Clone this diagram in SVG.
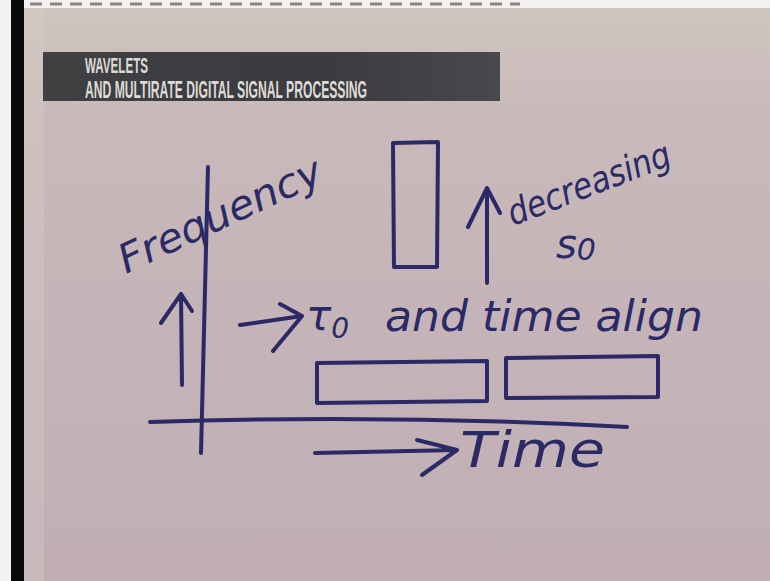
<svg xmlns="http://www.w3.org/2000/svg" width="770" height="581" viewBox="0 0 770 581">
<defs>
<linearGradient id="page" x1="0" y1="0" x2="0" y2="1">
<stop offset="0" stop-color="#d0c6c0"/>
<stop offset="0.2" stop-color="#c8b9ba"/>
<stop offset="1" stop-color="#c0aeb4"/>
</linearGradient>
<linearGradient id="bar" x1="0" y1="0" x2="1" y2="0">
<stop offset="0" stop-color="#3f4042"/>
<stop offset="0.6" stop-color="#3a3b3f"/>
<stop offset="1" stop-color="#48494d"/>
</linearGradient>
<style>
.ink{fill:none;stroke:#2b2966;stroke-width:4;stroke-linecap:round;stroke-linejoin:round}
.hw{fill:#2b2966;font-family:"DejaVu Sans",sans-serif;font-style:italic}
.hd{fill:#dedad6;font-family:"Liberation Sans",sans-serif;font-weight:bold}
</style>
</defs>
<g id="background">
<rect x="0" y="0" width="770" height="581" fill="url(#page)"/>
<rect x="0" y="0" width="11" height="581" fill="#f4f2f0"/>
<rect x="0" y="0" width="770" height="8" fill="#f4f2f0"/>
<rect x="11" y="0" width="13" height="581" fill="#0a0a0a"/>
<rect x="24" y="8" width="20" height="573" fill="#d6cfc9" opacity="0.35"/>
<path d="M30 4 H520" stroke="#8a8684" stroke-width="3" stroke-dasharray="12 8"/>
</g>
<g id="header">
<rect x="43" y="52" width="457" height="49" fill="url(#bar)"/>
<text class="hd" x="85" y="73" font-size="22" textLength="63" lengthAdjust="spacingAndGlyphs">WAVELETS</text>
<text class="hd" x="85" y="98" font-size="24" textLength="282" lengthAdjust="spacingAndGlyphs">AND MULTIRATE DIGITAL SIGNAL PROCESSING</text>
</g>
<g id="connectors">
<path class="ink" d="M208 167 L201 453"/>
<path class="ink" d="M150 422 Q390 414 627 427"/>
<path class="ink" d="M182 385 L181 294 M161 323 L181 294 L192 311"/>
<path class="ink" d="M487 283 L487 188 M468 227 L487 188 L500 213"/>
<path class="ink" d="M240 325 L302 316 M280 304 L302 316 L273 351"/>
<path class="ink" d="M315 453 L457 450 M417 440 L457 450 L422 475"/>
</g>
<g id="tall-box">
<path class="ink" d="M393 143 L438 142 L437 267 L394 267 Z"/>
</g>
<g id="wide-box-1">
<path class="ink" d="M317 363 L487 361 L487 401 L317 403 Z"/>
</g>
<g id="wide-box-2">
<path class="ink" d="M506 358 L658 356 L658 397 L506 398 Z"/>
</g>
<g id="labels">
<text class="hw" font-size="40" transform="translate(126 274) rotate(-25)" textLength="220" lengthAdjust="spacingAndGlyphs">Frequency</text>
<text class="hw" font-size="36" transform="translate(513 226) rotate(-21)" textLength="172" lengthAdjust="spacingAndGlyphs">decreasing</text>
<text class="hw" font-size="40" x="556" y="258">s<tspan font-size="30" dy="2">0</tspan></text>
<text class="hw" font-size="42" x="306" y="330">τ<tspan font-size="28" dy="8">0</tspan></text>
<text class="hw" font-size="42" x="385" y="331" textLength="318" lengthAdjust="spacingAndGlyphs">and time align</text>
<text class="hw" font-size="50" x="460" y="467" textLength="145" lengthAdjust="spacingAndGlyphs">Time</text>
</g>
</svg>
